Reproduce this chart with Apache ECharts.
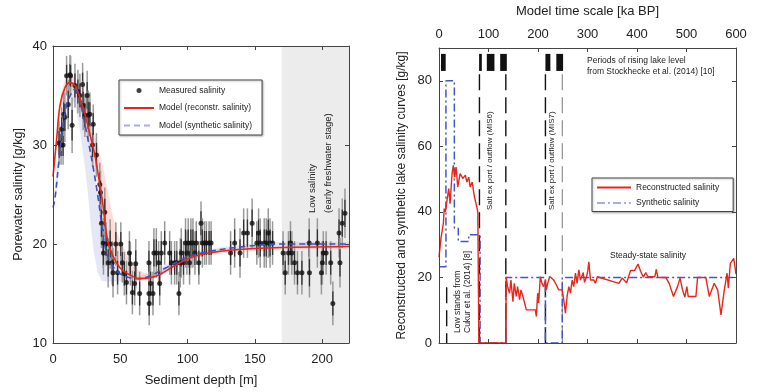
<!DOCTYPE html>
<html><head><meta charset="utf-8">
<script src="https://cdn.jsdelivr.net/npm/echarts@6/dist/echarts.min.js"></script>
<style>html,body{margin:0;padding:0;background:#fff}#c{width:758px;height:392px}</style>
</head><body><div id="c"></div>
<script>
// ---------- LEFT PANEL DATA ----------
// measured porewater salinity: [depth m, salinity g/kg, error g/kg]
const measured = [
 [4.5,30.2,2.2],[6.0,30.0,2.0],[6.5,31.6,2.2],[7.5,30.0,2.0],[8.0,33.1,2.2],[8.8,32.8,2.5],
 [10.1,37.0,2.0],[11.3,34.1,2.5],[12.6,37.1,2.0],[13.1,37.0,2.0],[14.2,32.0,2.8],[16.3,36.0,2.2],
 [18.5,35.4,2.2],[20.0,35.0,2.2],[22.0,36.1,2.2],[22.4,34.0,2.5],[23.7,33.0,2.2],[25.4,35.0,2.5],
 [26.2,33.0,2.5],[27.4,33.1,2.2],[29.4,30.0,2.2],[29.9,32.1,2.0],[32.3,29.0,2.2],[34.8,26.0,2.2],
 [35.3,25.2,2.2],[36.0,22.1,2.5],[37.3,20.1,2.5],[37.5,19.1,2.2],[38.5,23.2,2.5],[39.5,20.0,2.2],
 [41.0,18.1,2.5],[42.5,20.0,2.5],[44.0,18.1,2.2],[44.6,17.1,2.5],[46.7,20.0,2.2],[48.0,17.1,2.2],
 [50.4,20.0,2.2],[51.5,18.1,2.0],[53.0,17.0,2.2],[54.6,16.1,2.2],[56.8,19.1,2.2],[57.5,18.0,2.2],
 [59.0,15.1,2.2],[60.7,16.0,2.2],[61.5,18.0,2.5],[64.4,15.0,2.2],
 [71.3,18.1,2.2],[71.3,15.0,2.2],[71.5,14.0,2.2],[72.5,16.0,2.2],[74.3,15.0,2.2],[75.0,19.1,2.5],
 [76.8,19.1,2.5],[78.5,18.1,2.2],[79.3,16.0,2.2],[80.5,19.1,2.2],[83.0,20.1,2.2],[86.7,19.1,2.2],
 [88.0,18.1,2.2],[90.4,18.1,2.2],[92.0,18.1,2.2],[93.6,15.0,2.2],[94.6,18.1,2.5],[95.3,19.1,2.5],
 [97.0,18.1,2.2],[98.5,20.1,2.5],[99.5,19.1,2.2],[100.5,20.1,2.5],[101.5,18.1,2.2],[102.5,20.1,2.5],
 [104.0,20.1,2.5],[105.5,19.1,2.2],[106.5,20.1,2.2],[108.4,18.1,2.2],[110.0,22.1,2.2],[111.0,20.1,2.5],
 [112.6,20.1,2.2],[114.0,20.1,2.2],[116.0,20.1,2.2],[117.5,20.1,2.2],
 [132.0,19.1,2.2],[135.0,20.1,2.5],[139.0,19.1,2.5],[141.7,21.1,2.5],[144.5,21.1,2.5],[148.0,22.1,2.5],
 [151.5,20.1,2.2],[152.8,21.1,2.5],[154.0,20.1,2.5],[157.0,20.1,2.5],[158.5,20.1,2.5],[160.0,21.1,2.5],
 [161.3,20.1,2.5],[163.2,20.1,2.2],
 [171.0,19.1,2.2],[172.6,17.1,2.2],[175.0,19.1,2.2],[176.5,20.1,2.2],[177.5,19.1,2.2],[179.5,18.1,2.2],
 [181.7,17.1,2.2],[185.0,17.1,2.2],[190.4,20.1,2.5],[190.6,17.1,2.5],[196.5,20.1,2.5],[199.5,17.1,2.2],
 [200.2,18.1,2.2],[200.9,19.1,2.2],[203.0,19.1,2.2],[206.4,18.1,2.2],[208.0,14.0,2.2],[212.6,21.1,2.5],
 [213.3,18.1,2.5],[215.0,22.1,2.5],[217.0,23.1,2.5]
];
// model curve, reconstructed salinity [depth, salinity]
const modelRecon = [
 [0,26.8],[2.7,30.6],[5.2,34],[8.9,35.8],[12.6,36.3],[16.3,36],[20,34.8],[23.7,33.1],[27.4,31.1],
 [31.1,29],[34.8,26],[37.3,23.8],[39.3,21.4],[42.2,19.6],[47.2,18.1],[52,17.3],[57,16.9],[64,16.5],
 [72,16.6],[79,16.9],[91.6,17.9],[104,18.7],[116,19.1],[133.6,19.4],[158,19.6],[220,19.75]
];
// model curve, synthetic salinity [depth, salinity]
const modelSynth = [
 [0,23.7],[1.5,24.6],[4,27.9],[6.4,30.9],[10.1,34],[13.8,35.3],[15.6,35.6],[18.8,35.1],[22.5,32.9],
 [26.2,30.4],[29.9,27.7],[33.6,24.6],[36.8,21.4],[39.7,19.2],[44.7,17.7],[50.9,16.9],[57,16.6],
 [62,16.5],[70.6,16.7],[84,17.6],[99,18.6],[116,19.25],[143,19.75],[170.6,20],[220,20]
];
// uncertainty bands [depth, low, high]
const reconBand = [
 [0,26.3,27.3],[3,30,31.6],[6,33.5,35.2],[9,35.2,36.6],[12.6,35.7,37],[16,35.3,36.8],[20,33.8,35.6],
 [24,31.5,34],[28,29.2,32.2],[32,26.8,30.5],[36,23.6,28.5],[40,20.6,25.8],[44,18.8,23],[48,17.7,21],
 [52,17.1,19.8],[57,16.7,18.3],[64,16.3,17.3],[72,16.4,16.9],[80,16.8,17.3],[92,17.7,18.3],
 [104,18.5,19.1],[116,18.9,19.4],[134,19.2,19.6],[160,19.4,19.8],[220,19.6,19.9]
];
const synthBand = [
 [0,23.3,24.3],[4,26.8,28.8],[8,31,33.6],[12,33.6,35.6],[16,34.5,36.2],[20,31.5,35.4],[24,27.5,33],
 [26,25,31.5],[28,22,30.3],[30,19.5,28.5],[33,17.2,25.5],[36,16.3,23],[40,16.2,20.5],[45,16.2,18.3],
 [50,16.2,17.3],[57,16.2,16.9],[62,16.3,16.8],[71,16.5,17],[84,17.3,17.9],[99,18.3,18.9],
 [116,19,19.5],[143,19.6,20],[170,19.8,20.2],[220,19.8,20.2]
];
const lowSalinityZone = [170, 220];
const depthTicks = {min:0, max:220, step:50};
const poreTicks = {min:10, max:40, step:10};

// ---------- RIGHT PANEL DATA ----------
// reconstructed lake salinity [ka BP, g/kg]
const reconstructed = [
 [0,26.2],[4,32],[8.8,36.5],[10.5,41],[12.8,40],[16.2,43.6],[19.6,47.1],[22.3,42.5],[26.4,51.7],
 [29,54.2],[31.8,50.6],[34.5,53.7],[37.9,47.6],[42.6,51.7],[48,50.2],[53.3,51.2],[56.2,49.1],
 [60.2,50.6],[62.8,47.6],[67,49.1],[71.6,44.6],[76.4,41.5],[78.4,40],[80.5,0],[135,0],
 [135.8,20.2],[138.5,17.2],[142.5,15.2],[145.3,19.2],[149.4,12.6],[152,18.2],[156,14.2],[158.8,17.2],
 [162.8,13.2],[165.6,16.2],[169.6,14.2],[176.4,10.1],[194.6,10.1],[196.6,8.1],[199.3,15.2],
 [201.3,12.2],[204.7,20.2],[208,18.2],[211.4,17.2],[214.9,19.2],[216.9,16.2],[219.6,18.2],
 [223.6,20.3],[231.7,19.2],[237.2,17.7],[241.8,16.2],[248.7,16.2],[252,13.2],[255.4,9.1],
 [258.8,14.2],[262.2,17.2],[265.5,15.2],[269,19.2],[272.3,17.2],[275.7,21.3],[279,18.2],
 [282.5,22.3],[285.8,19.2],[291.3,21.5],[294,18.5],[298,20.2],[300.6,22],[302.7,24.8],[306,19.2],
 [313,19.2],[316,18.2],[319.7,20.2],[323,20.2],[363.5,18.2],[370,19.8],[379,18.4],[387,22.1],
 [395,22.1],[402,24.1],[407.5,21.8],[413,20.1],[417.7,21.5],[422,20.2],[436,20.2],[439,22.5],
 [442,20],[458,20],[465,18.2],[473.7,14.2],[481.8,17.2],[487,19.8],[492,16.2],[496.6,14],
 [500.7,17.2],[503.4,14.2],[519,14.2],[522.4,20],[539,20],[546,14.2],[556,18.2],[563,16.2],
 [569.6,8.6],[576.4,16.2],[582,21.3],[584.5,16.7],[588.6,24.3],[595.4,25.8],[600,21]
];
// synthetic lake salinity [ka BP, g/kg]
const synthetic = [
 [0,23.3],[14,23.3],[14,80],[31,80],[31,35],[39,35],[39,31],[60,31],[60,33],[83,33],[83,0],
 [135,0],[135,20],[215,20],[215,0],[249,0],[249,20],[600,20]
];
// periods of rising lake level [start, end] ka BP
const risingPeriods = [[4,13.5],[81,86.5],[96.6,112],[123.6,137],[215,225],[237,250.7]];
const risingBand = [83, 88.2];
// vertical marker lines [ka BP, from, to, kind]
const markerLines = [[15.5,0,17,'black'],[81.7,0,82,'black'],[135,0,82,'black'],[215,0,82,'black'],[249,0,82,'gray']];
const timeTicks = {min:0, max:600, step:100};
const lakeTicks = {min:0, max:90, step:20};

// ---------- CHART ----------
const FF = 'Liberation Sans, Arial, Helvetica, sans-serif';
const AX = '#444';
function axisBase(extra){
  return Object.assign({
    type:'value', z:10, splitLine:{show:false},
    axisLine:{show:true, onZero:false, lineStyle:{color:AX, width:1}},
    axisTick:{show:true, inside:true, length:4, lineStyle:{color:AX}},
    axisLabel:{show:true, fontSize:13, color:'#222', fontFamily:FF, showMaxLabel:false},
    nameTextStyle:{fontSize:13, color:'#222', fontFamily:FF}
  }, extra);
}
const chart = echarts.init(document.getElementById('c'), null, {renderer:'canvas'});

function bandRender(band, fill){
  return function(params, api){
    const pts = [];
    band.forEach(b => pts.push(api.coord([b[0], b[1]])));
    for (let i = band.length-1; i >= 0; i--) pts.push(api.coord([band[i][0], band[i][2]]));
    return {type:'polygon', shape:{points:pts}, style:{fill:fill}, silent:true};
  };
}

const option = {
  animation:false,
  backgroundColor:'#fff',
  textStyle:{fontFamily:FF},
  grid:[
    {left:53, top:46, width:296, height:297},
    {left:439, top:47, width:297, height:296}
  ],
  xAxis:[
    axisBase({gridIndex:0, position:'bottom', min:depthTicks.min, max:depthTicks.max, interval:depthTicks.step,
      name:'Sediment depth [m]', nameLocation:'middle', nameGap:31,
      axisLabel:{fontSize:13, color:'#222', fontFamily:FF, margin:10, showMaxLabel:false}}),
    axisBase({gridIndex:0, position:'top', min:depthTicks.min, max:depthTicks.max, interval:depthTicks.step,
      axisLabel:{show:false}}),
    axisBase({gridIndex:1, position:'top', min:timeTicks.min, max:timeTicks.max, interval:timeTicks.step,
      name:'Model time scale [ka BP]', nameLocation:'middle', nameGap:30,
      axisLabel:{fontSize:13, color:'#222', fontFamily:FF, margin:7}}),
    axisBase({gridIndex:1, position:'bottom', min:timeTicks.min, max:timeTicks.max, interval:timeTicks.step,
      axisLabel:{show:false}})
  ],
  yAxis:[
    axisBase({gridIndex:0, position:'left', min:poreTicks.min, max:poreTicks.max, interval:poreTicks.step,
      name:'Porewater salinity [g/kg]', nameLocation:'middle', nameGap:28,
      nameTextStyle:{fontSize:12.5, color:'#222', fontFamily:FF},
      axisLabel:{fontSize:13, color:'#222', fontFamily:FF, margin:6}}),
    axisBase({gridIndex:0, position:'right', min:poreTicks.min, max:poreTicks.max, interval:poreTicks.step,
      axisLabel:{show:false}}),
    axisBase({gridIndex:1, position:'left', min:lakeTicks.min, max:lakeTicks.max, interval:lakeTicks.step,
      name:'Reconstructed and synthetic lake salinity curves [g/kg]', nameLocation:'middle', nameGap:31,
      nameTextStyle:{fontSize:12, color:'#222', fontFamily:FF},
      axisLabel:{fontSize:13, color:'#222', fontFamily:FF, margin:7, showMaxLabel:false}}),
    axisBase({gridIndex:1, position:'right', min:lakeTicks.min, max:lakeTicks.max, interval:lakeTicks.step,
      axisLabel:{show:false}})
  ],
  legend:[
    {left:119, top:80, orient:'vertical', itemWidth:30, itemHeight:5, itemGap:8.5,
     padding:[6,10,5,4], borderColor:'#444', borderWidth:1, backgroundColor:'#fff',
     shadowColor:'rgba(0,0,0,0.25)', shadowBlur:2, shadowOffsetX:1, shadowOffsetY:1,
     textStyle:{fontSize:8.5, color:'#222', fontFamily:FF},
     data:[
       {name:'Measured salinity'},
       {name:'Model (reconstr. salinity)', itemStyle:{opacity:0}},
       {name:'Model (synthetic salinity)', itemStyle:{opacity:0}, lineStyle:{color:'#a9aee0'}}
     ]},
    {left:592, top:178, orient:'vertical', itemWidth:34, itemHeight:5, itemGap:6.5,
     padding:[5,14,4,4], borderColor:'#444', borderWidth:1, backgroundColor:'#fff',
     shadowColor:'rgba(0,0,0,0.25)', shadowBlur:2, shadowOffsetX:1, shadowOffsetY:1,
     textStyle:{fontSize:8.5, color:'#222', fontFamily:FF},
     data:[
       {name:'Reconstructed salinity', itemStyle:{opacity:0}},
       {name:'Synthetic salinity', itemStyle:{opacity:0}, lineStyle:{color:'#a9aee0'}}
     ]}
  ],
  series:[
    // low salinity zone shading
    {type:'custom', xAxisIndex:0, yAxisIndex:0, z:0, silent:true, data:[lowSalinityZone],
     renderItem:function(params, api){
       const a = api.coord([api.value(0), poreTicks.max]);
       const b = api.coord([api.value(1), poreTicks.min]);
       return {type:'rect', shape:{x:a[0], y:a[1], width:b[0]-a[0], height:b[1]-a[1]}, style:{fill:'#ececec'}};
     }},
    {type:'custom', xAxisIndex:0, yAxisIndex:0, z:1, silent:true, data:[0], clip:true,
     renderItem:bandRender(synthBand, 'rgba(160,170,228,0.28)')},
    {type:'custom', xAxisIndex:0, yAxisIndex:0, z:1, silent:true, data:[0], clip:true,
     renderItem:bandRender(reconBand, 'rgba(245,150,140,0.32)')},
    // error bars
    {type:'custom', xAxisIndex:0, yAxisIndex:0, z:2, silent:true, data:measured, encode:{x:0, y:1},
     renderItem:function(params, api){
       const d = api.value(0), v = api.value(1), e = api.value(2);
       const t = api.coord([d, v+e]), b = api.coord([d, v-e]);
       const ti = api.coord([d, v+e*0.55]), bi = api.coord([d, v-e*0.55]);
       return {type:'group', children:[
         {type:'line', shape:{x1:t[0], y1:t[1], x2:b[0], y2:b[1]}, style:{stroke:'#9a9a9a', lineWidth:1.5}},
         {type:'line', shape:{x1:ti[0], y1:ti[1], x2:bi[0], y2:bi[1]}, style:{stroke:'#333', lineWidth:1.3}}
       ]};
     }},
    {name:'Measured salinity', type:'scatter', xAxisIndex:0, yAxisIndex:0, z:3,
     data:measured.map(p => [p[0], p[1]]), symbol:'circle', symbolSize:5,
     itemStyle:{color:'#111'}},
    {name:'Model (synthetic salinity)', type:'line', xAxisIndex:0, yAxisIndex:0, z:4, data:modelSynth,
     smooth:0.4, symbol:'none', lineStyle:{color:'#3c4fc4', width:1.6, type:[6,4]}, itemStyle:{color:'#3c4fc4'}},
    {name:'Model (reconstr. salinity)', type:'line', xAxisIndex:0, yAxisIndex:0, z:5, data:modelRecon,
     smooth:0.4, symbol:'none', lineStyle:{color:'#e8261c', width:1.6}, itemStyle:{color:'#e8261c'}},

    // right panel: rising periods
    {type:'custom', xAxisIndex:2, yAxisIndex:2, z:2, silent:true, data:risingPeriods,
     renderItem:function(params, api){
       const a = api.coord([api.value(0), risingBand[1]]);
       const b = api.coord([api.value(1), risingBand[0]]);
       return {type:'rect', shape:{x:a[0], y:a[1], width:b[0]-a[0], height:b[1]-a[1]}, style:{fill:'#111'}};
     }},
    {type:'custom', xAxisIndex:2, yAxisIndex:2, z:2, silent:true, data:markerLines.map(m => [m[0], m[1], m[2]]),
     renderItem:function(params, api){
       const kind = markerLines[params.dataIndex][3];
       const a = api.coord([api.value(0), api.value(2)]);
       const b = api.coord([api.value(0), api.value(1)]);
       return {type:'line', shape:{x1:a[0], y1:a[1], x2:b[0], y2:b[1]},
         style:{stroke: kind==='gray' ? '#777' : '#111', lineWidth: kind==='gray' ? 1 : 1.4, lineDash:[16,7]}};
     }},
    {name:'Synthetic salinity', type:'line', xAxisIndex:2, yAxisIndex:2, z:4, data:synthetic,
     symbol:'none', lineStyle:{color:'#4256c8', width:1.5, type:[8,3,2,3]}, itemStyle:{color:'#4256c8'}},
    {name:'Reconstructed salinity', type:'line', xAxisIndex:2, yAxisIndex:2, z:5, data:reconstructed,
     symbol:'none', lineStyle:{color:'#e8261c', width:1.4}, itemStyle:{color:'#e8261c'}}
  ],
  graphic:[
    {type:'text', x:320, y:213, rotation:Math.PI/2, z:20,
     style:{text:'Low salinity\n(early freshwater stage)', fontSize:9.5, lineHeight:16, fill:'#222',
            align:'left', verticalAlign:'middle', fontFamily:FF}},
    {type:'text', x:490, y:210, rotation:Math.PI/2, z:20,
     style:{text:'Salt ex port / outflow (MIS6)', fontSize:8, fill:'#222', align:'left', verticalAlign:'middle', fontFamily:FF}},
    {type:'text', x:552, y:210, rotation:Math.PI/2, z:20,
     style:{text:'Salt ex port / outflow (MIS7)', fontSize:8, fill:'#222', align:'left', verticalAlign:'middle', fontFamily:FF}},
    {type:'text', x:463, y:333, rotation:Math.PI/2, z:20,
     style:{text:'Low stands from\nCukur et al. (2014) [8]', fontSize:8.5, lineHeight:10, fill:'#222',
            align:'left', verticalAlign:'middle', fontFamily:FF}},
    {type:'text', x:587, y:66, z:20,
     style:{text:'Periods of rising lake level\nfrom Stockhecke et al. (2014) [10]', fontSize:8.5, lineHeight:11.5,
            fill:'#222', align:'left', verticalAlign:'middle', fontFamily:FF}},
    {type:'text', x:648, y:256, z:20,
     style:{text:'Steady-state salinity', fontSize:8.5, fill:'#222', align:'center', verticalAlign:'middle', fontFamily:FF}}
  ]
};
chart.setOption(option);
</script>
</body></html>
